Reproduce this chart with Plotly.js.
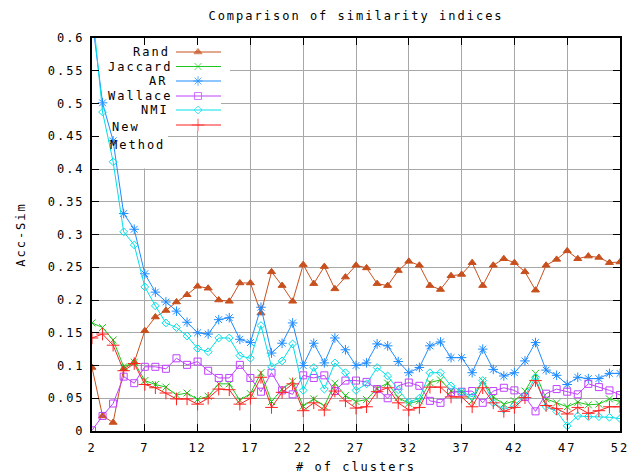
<!DOCTYPE html>
<html><head><meta charset="utf-8">
<script src="https://cdn.plot.ly/plotly-3.0.1.min.js"></script>
<style>
html,body{margin:0;padding:0;background:#fff;}
#chart{width:644px;height:474px;}
.main-svg text{letter-spacing:2px;}
</style></head><body><div id="chart"></div><script>
// ---- data ----
const clusters = [2,3,4,5,6,7,8,9,10,11,12,13,14,15,16,17,18,19,20,21,22,23,24,25,26,27,28,29,30,31,32,33,34,35,36,37,38,39,40,41,42,43,44,45,46,47,48,49,50,51,52];
const rand = [0.097,0.023,0.013,0.095,0.105,0.153,0.174,0.184,0.197,0.208,0.221,0.218,0.200,0.198,0.226,0.226,0.180,0.243,0.222,0.198,0.254,0.225,0.251,0.217,0.235,0.253,0.249,0.225,0.222,0.245,0.259,0.253,0.222,0.216,0.237,0.239,0.257,0.222,0.253,0.263,0.257,0.243,0.215,0.253,0.262,0.275,0.263,0.267,0.265,0.257,0.258];
const jaccard = [0.165,0.158,0.139,0.098,0.105,0.077,0.071,0.067,0.055,0.058,0.048,0.053,0.072,0.072,0.047,0.057,0.089,0.045,0.064,0.076,0.038,0.049,0.038,0.073,0.054,0.045,0.048,0.065,0.073,0.051,0.042,0.046,0.074,0.078,0.061,0.060,0.046,0.077,0.052,0.041,0.046,0.061,0.088,0.049,0.043,0.037,0.044,0.040,0.041,0.049,0.045];
const ar = [0.63,0.501,0.443,0.332,0.308,0.240,0.212,0.197,0.183,0.166,0.150,0.148,0.170,0.173,0.140,0.135,0.189,0.119,0.134,0.165,0.100,0.134,0.104,0.142,0.124,0.100,0.104,0.133,0.130,0.106,0.089,0.097,0.130,0.136,0.112,0.112,0.089,0.125,0.094,0.084,0.089,0.107,0.135,0.093,0.085,0.071,0.082,0.080,0.080,0.088,0.088];
const wallace = [0.001,0.023,0.042,0.083,0.073,0.098,0.098,0.095,0.111,0.101,0.106,0.092,0.081,0.081,0.101,0.081,0.060,0.089,0.062,0.056,0.085,0.081,0.085,0.061,0.077,0.077,0.075,0.064,0.050,0.069,0.074,0.069,0.046,0.043,0.059,0.060,0.061,0.043,0.061,0.066,0.062,0.052,0.030,0.057,0.064,0.060,0.056,0.072,0.067,0.062,0.055];
const nmi = [0.65,0.487,0.411,0.304,0.284,0.220,0.191,0.165,0.158,0.145,0.126,0.121,0.142,0.142,0.115,0.111,0.161,0.098,0.107,0.133,0.062,0.097,0.064,0.104,0.089,0.062,0.072,0.097,0.084,0.063,0.044,0.050,0.089,0.089,0.069,0.060,0.052,0.077,0.043,0.033,0.039,0.054,0.082,0.037,0.030,0.008,0.023,0.022,0.022,0.021,0.019];
const newMethod = [0.142,0.148,0.131,0.092,0.103,0.071,0.066,0.058,0.049,0.049,0.041,0.050,0.064,0.063,0.041,0.050,0.082,0.036,0.059,0.072,0.031,0.043,0.032,0.061,0.046,0.035,0.037,0.060,0.066,0.043,0.032,0.036,0.067,0.067,0.052,0.052,0.037,0.066,0.043,0.030,0.036,0.051,0.077,0.039,0.034,0.026,0.036,0.027,0.031,0.037,0.037];
const seriesNames = ['Rand','Jaccard','AR','Wallace','NMI','New Method'];
const xTickVals = [2,7,12,17,22,27,32,37,42,47,52];
const yTickVals = [0,0.05,0.1,0.15,0.2,0.25,0.3,0.35,0.4,0.45,0.5,0.55,0.6];
const yTickText = ['0','0.05','0.1','0.15','0.2','0.25','0.3','0.35','0.4','0.45','0.5','0.55','0.6'];

// ---- styling ----
const FONT = 'DejaVu Sans Mono, monospace';
const L = 92, R = 620, T = 38, B = 431;
const XMIN = 2, XMAX = 52, YMIN = 0, YMAX = 0.6;
const px2x = p => XMIN + (p - L) * (XMAX - XMIN) / (R - L);
const py2y = p => YMIN + (B - p) * (YMAX - YMIN) / (B - T);

const values = [rand, jaccard, ar, wallace, nmi, newMethod];
const styles = [
  {color:'#c8501e', symbol:'triangle-up', size:7},
  {color:'#1ec81e', symbol:'x-thin-open', size:7},
  {color:'#1e8cff', symbol:'asterisk-open', size:8},
  {color:'#c040ff', symbol:'square-open', size:7},
  {color:'#00e0e8', symbol:'diamond-open', size:6},
  {color:'#ff2020', symbol:'cross-thin-open', size:9}
];

const traces = [];
values.forEach((v, i) => {
  const s = styles[i];
  traces.push({
    x: clusters, y: v, type:'scatter', mode:'lines+markers', name: seriesNames[i],
    line:{color:s.color, width:1},
    marker:{symbol:s.symbol, size:s.size, color:s.color, line:{color:s.color, width:1}},
    showlegend:false, hoverinfo:'skip'
  });
});

// custom gnuplot-style key: text right, sample at right
const keyRowsY = [52, 66.5, 81, 96, 110, 125];
const annotations = [];
keyRowsY.forEach((py, i) => {
  const s = styles[i];
  traces.push({
    x:[px2x(176), px2x(198), px2x(221)], y:[py2y(py), py2y(py), py2y(py)],
    type:'scatter', mode:'lines+markers', showlegend:false, hoverinfo:'skip', cliponaxis:false,
    line:{color:s.color, width:1},
    marker:{symbol:s.symbol, size:[0, s.size, 0], color:s.color, line:{color:s.color, width:1}}
  });
  const parts = seriesNames[i].split(' ');
  if (parts.length === 1) {
    annotations.push({x:px2x(168), y:py2y(py), xref:'x', yref:'y', text:parts[0], showarrow:false,
      xanchor:'right', yanchor:'middle', font:{family:FONT, size:12, color:'#000'}});
  } else {
    annotations.push({x:px2x(113), y:py2y(127), xref:'x', yref:'y', text:parts[0], showarrow:false,
      xanchor:'left', yanchor:'middle', font:{family:FONT, size:12, color:'#000'}});
    annotations.push({x:px2x(114), y:py2y(145), xref:'x', yref:'y', text:parts[1], showarrow:false,
      xanchor:'left', yanchor:'middle', font:{family:FONT, size:12, color:'#000'}});
  }
});

const rect = (x0, x1, y0, y1) => ({type:'rect', xref:'x', yref:'y', layer:'between',
  x0:px2x(x0), x1:px2x(x1), y0:py2y(y0), y1:py2y(y1), fillcolor:'#fff', line:{width:0}});
const shapes = [rect(93, 230, 39, 90), rect(93, 221, 90, 131), rect(99, 168, 131, 168.5)];

const axisCommon = {
  ticks:'inside', ticklen:7, tickwidth:1, tickcolor:'#000', mirror:'allticks',
  showline:true, linecolor:'#000', linewidth:2, showgrid:true, gridcolor:'#a8a8a8', gridwidth:1,
  zeroline:false, tickfont:{family:FONT, size:12, color:'#000'}, fixedrange:true
};

const layout = {
  width:644, height:474, margin:{l:L, r:644-R, t:T, b:474-B}, paper_bgcolor:'#fff', plot_bgcolor:'#fff',
  showlegend:false,
  title:{text:'Comparison of similarity indices', font:{family:FONT, size:12, color:'#000'},
    x:0.5, xanchor:'center', y:1-16/474, yanchor:'middle', xref:'paper', yref:'container'},
  xaxis: Object.assign({}, axisCommon, {range:[XMIN, XMAX], tickmode:'array', tickvals:xTickVals,
    ticklabelstandoff:5,
    title:{text:'# of clusters', font:{family:FONT, size:12, color:'#000'}, standoff:9}}),
  yaxis: Object.assign({}, axisCommon, {range:[YMIN, YMAX], tickmode:'array', tickvals:yTickVals, ticktext:yTickText,
    ticklabelstandoff:3,
    title:{text:'Acc-Sim', font:{family:FONT, size:12, color:'#000'}, standoff:27}}),
  shapes: shapes, annotations: annotations
};

Plotly.newPlot('chart', traces, layout, {displayModeBar:false, staticPlot:true});
</script></body></html>
